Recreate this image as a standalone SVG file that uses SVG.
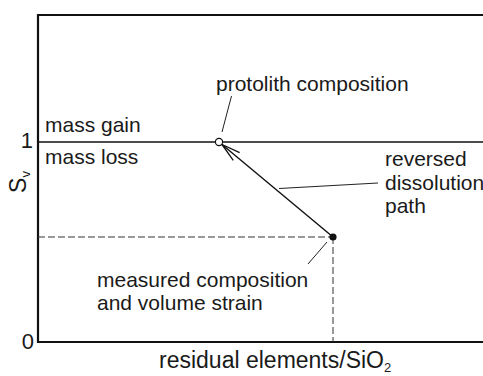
<svg xmlns="http://www.w3.org/2000/svg" width="483" height="376" viewBox="0 0 483 376">
<style>
text{font-family:"Liberation Sans",Arial,sans-serif;fill:#1a1a1a;font-size:21px}
.ax{font-size:23px}
.tk{font-size:22px}
.axis{stroke:#111;stroke-width:2.2;fill:none}
.thin{stroke:#111;stroke-width:1.4;fill:none}
.lead{stroke:#222;stroke-width:1;fill:none}
.dash{stroke:#333;stroke-width:1;stroke-dasharray:7 3;fill:none}
</style>
<defs>
<marker id="open" viewBox="-20 -8 22 16" markerWidth="22" markerHeight="16" refX="0" refY="0" orient="auto" markerUnits="userSpaceOnUse">
<path d="M-18.8,-5 L0,0 L-18.8,5" fill="none" stroke="#111" stroke-width="1.3"/>
</marker>
</defs>
<rect width="483" height="376" fill="#fff"/>
<g id="axes">
<path class="axis" d="M483,15 H38 V342 H483"/>
<path class="thin" d="M38,142 H483"/>
<text x="33" y="148" text-anchor="end" class="tk">1</text>
<text x="34" y="349" text-anchor="end" class="tk">0</text>
<text transform="translate(26,182) rotate(-90)" text-anchor="middle" class="ax">S<tspan font-size="13" dy="4">v</tspan></text>
<text x="159" y="368" class="ax">residual elements/SiO<tspan font-size="13" dy="4">2</tspan></text>
<text x="45" y="132">mass gain</text>
<text x="45" y="164">mass loss</text>
</g>
<g id="connectors">
<path class="dash" d="M38,237 H333"/>
<path class="dash" d="M333,237 V342"/>
<path class="thin" d="M333,237 L222,144.5" marker-end="url(#open)"/>
<path class="lead" d="M231.5,96 L222,132"/>
<path class="lead" d="M279,188.5 L378,183"/>
<path class="lead" d="M327,242 L308,264"/>
</g>
<g id="protolith">
<circle cx="219" cy="142" r="3.6" fill="#fff" stroke="#111" stroke-width="1.2"/>
<text x="216" y="91">protolith composition</text>
</g>
<g id="measured">
<circle cx="333" cy="237" r="3.6" fill="#111"/>
<text x="97" y="287">measured composition</text>
<text x="97" y="310">and volume strain</text>
</g>
<g id="path-label">
<text x="385" y="166">reversed</text>
<text x="385" y="190">dissolution</text>
<text x="385" y="213">path</text>
</g>
</svg>
